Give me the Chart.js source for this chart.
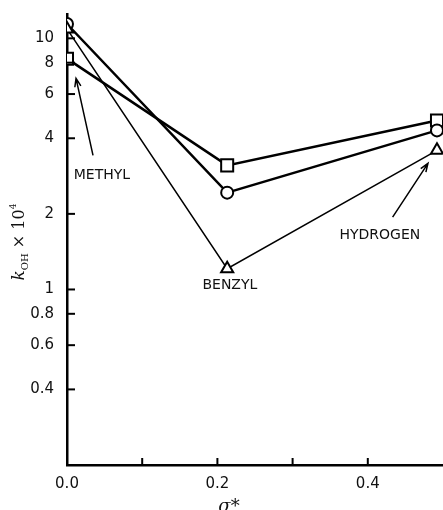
<!DOCTYPE html>
<html>
<head>
<meta charset="utf-8">
<script src="https://cdn.jsdelivr.net/npm/chart.js@4"></script>
<style>body{margin:0;background:#fff}</style>
</head>
<body>
<canvas id="rateChart" width="443" height="510"></canvas>
<script>
// substituent -> sigma* and log rate data
const substituents = ['METHYL', 'BENZYL', 'HYDROGEN'];
const sigmaStar = [0.0, 0.213, 0.492];
const squareSeries = [8.3, 3.12, 4.71];
const circleSeries = [11.4, 2.43, 4.30];
const triangleSeries = [10.9, 1.21, 3.58];

const xTickValues = [0, 0.1, 0.2, 0.3, 0.4];
const xTickLabels = ['0.0', '', '0.2', '', '0.4'];
const yTickValues = [0.4, 0.6, 0.8, 1, 2, 4, 6, 8, 10];

// label placement (data coords) and arrow ends
const notes = [
    {text: substituents[0], at: [0.0465, 2.85], arrow: [[0.0346, 3.42], [0.012, 6.93]]},
    {text: substituents[1], at: [0.2166, 1.04], arrow: null},
    {text: substituents[2], at: [0.416, 1.64], arrow: [[0.433, 1.94], [0.480, 3.18]]}
];

const tickFont = {family: 'DejaVu Sans', size: 15};

function toPoints(values) {
    return sigmaStar.map((x, i) => ({x: x, y: values[i]}));
}

function series(values, style, radius, width) {
    return {
        data: toPoints(values),
        borderColor: '#000',
        borderWidth: width,
        pointStyle: style,
        pointRadius: radius,
        pointBackgroundColor: '#fff',
        pointBorderColor: '#000',
        pointBorderWidth: 2,
        tension: 0,
        clip: {left: 0, top: false, right: false, bottom: 0}
    };
}

const decorations = {
    id: 'decorations',
    afterDraw(chart) {
        const ctx = chart.ctx;
        const xs = chart.scales.x;
        const ys = chart.scales.y;
        const area = chart.chartArea;
        ctx.save();
        ctx.strokeStyle = '#000';
        ctx.fillStyle = '#111';
        ctx.lineWidth = 2;

        // inward ticks
        xTickValues.forEach(v => {
            if (v === 0) return;
            const px = xs.getPixelForValue(v);
            ctx.beginPath();
            ctx.moveTo(px, area.bottom);
            ctx.lineTo(px, area.bottom - 7);
            ctx.stroke();
        });
        yTickValues.forEach(v => {
            const py = ys.getPixelForValue(v);
            ctx.beginPath();
            ctx.moveTo(area.left, py);
            ctx.lineTo(area.left + 8, py);
            ctx.stroke();
        });

        // labels + arrows
        ctx.font = '14px "DejaVu Sans"';
        ctx.textAlign = 'center';
        ctx.textBaseline = 'middle';
        ctx.lineWidth = 1.5;
        notes.forEach(n => {
            ctx.fillText(n.text, xs.getPixelForValue(n.at[0]), ys.getPixelForValue(n.at[1]));
            if (!n.arrow) return;
            const x1 = xs.getPixelForValue(n.arrow[0][0]);
            const y1 = ys.getPixelForValue(n.arrow[0][1]);
            const x2 = xs.getPixelForValue(n.arrow[1][0]);
            const y2 = ys.getPixelForValue(n.arrow[1][1]);
            const ang = Math.atan2(y2 - y1, x2 - x1);
            ctx.beginPath();
            ctx.moveTo(x1, y1);
            ctx.lineTo(x2, y2);
            ctx.moveTo(x2 - 9 * Math.cos(ang - 0.35), y2 - 9 * Math.sin(ang - 0.35));
            ctx.lineTo(x2, y2);
            ctx.lineTo(x2 - 9 * Math.cos(ang + 0.35), y2 - 9 * Math.sin(ang + 0.35));
            ctx.stroke();
        });

        // y title: k_OH x 10^4
        ctx.translate(18, 242);
        ctx.rotate(-Math.PI / 2);
        ctx.textAlign = 'left';
        ctx.textBaseline = 'alphabetic';
        const parts = [
            {t: 'k', f: 'italic 17px "DejaVu Serif"', dy: 0},
            {t: 'OH', f: '10px "DejaVu Serif"', dy: 4},
            {t: ' \u00d7 10', f: '16px "DejaVu Serif"', dy: 0},
            {t: '4', f: '9px "DejaVu Serif"', dy: -8}
        ];
        let total = 0;
        parts.forEach(p => { ctx.font = p.f; p.w = ctx.measureText(p.t).width; total += p.w; });
        let cx = -total / 2;
        parts.forEach(p => {
            ctx.font = p.f;
            ctx.fillText(p.t, cx, 6 + p.dy);
            cx += p.w;
        });
        ctx.restore();

        // x title
        ctx.save();
        ctx.fillStyle = '#111';
        ctx.font = 'italic 18px "DejaVu Serif"';
        ctx.textAlign = 'center';
        ctx.textBaseline = 'alphabetic';
        ctx.fillText('\u03c3*', 229, 512);
        ctx.restore();
    }
};

const ctx = document.getElementById('rateChart').getContext('2d');
const rateChart = new Chart(ctx, {
    type: 'line',
    data: {
        datasets: [
            series(triangleSeries, 'triangle', 7, 1.5),
            series(circleSeries, 'circle', 6, 2.5),
            series(squareSeries, 'rect', 8.5, 2.5)
        ]
    },
    options: {
        responsive: false,
        animation: false,
        layout: {autoPadding: false, padding: {top: 14, right: 0, left: 0, bottom: 0}},
        plugins: {legend: {display: false}, tooltip: {enabled: false}},
        scales: {
            x: {
                type: 'linear',
                min: 0,
                max: 0.5,
                afterFit(s) { s.height = 45; s.paddingLeft = 0; s.paddingRight = 0; },
                afterBuildTicks(s) { s.ticks = xTickValues.map(v => ({value: v})); },
                grid: {display: false, drawTicks: false},
                border: {display: true, color: '#000', width: 2.5},
                ticks: {
                    callback: (v, i) => xTickLabels[i],
                    font: tickFont,
                    color: '#111',
                    padding: 10,
                    maxRotation: 0,
                    autoSkip: false
                }
            },
            y: {
                type: 'logarithmic',
                min: 0.2,
                max: 12.5,
                afterFit(s) { s.width = 67; s.paddingTop = 0; s.paddingBottom = 0; },
                afterBuildTicks(s) { s.ticks = yTickValues.map(v => ({value: v})); },
                grid: {display: false, drawTicks: false},
                border: {display: true, color: '#000', width: 2.5},
                ticks: {
                    callback: v => String(v),
                    font: tickFont,
                    color: '#111',
                    padding: 13,
                    autoSkip: false
                }
            }
        }
    },
    plugins: [decorations]
});
</script>
</body>
</html>
